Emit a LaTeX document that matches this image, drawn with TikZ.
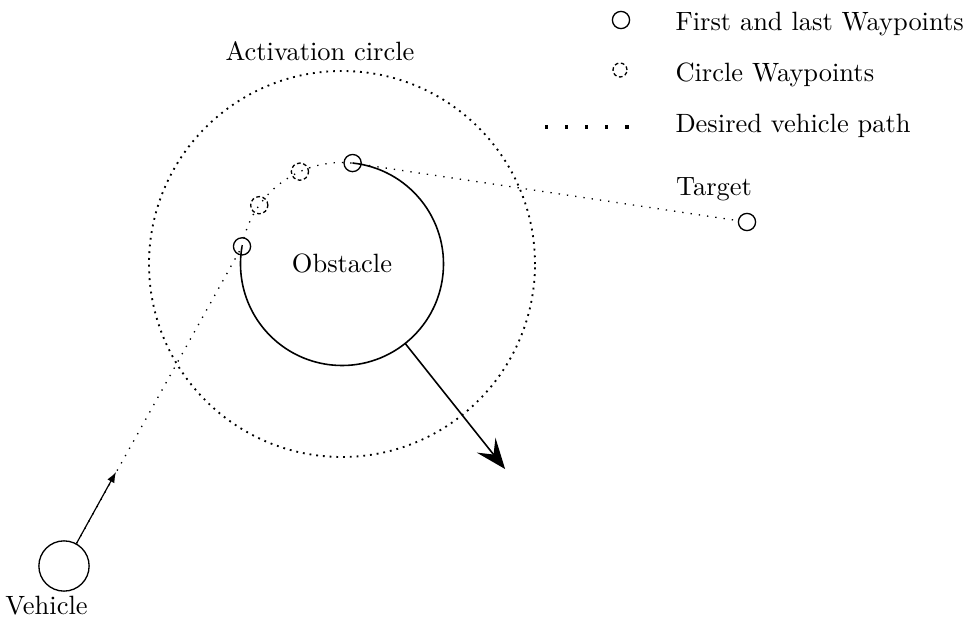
\documentclass[tikz,border=0pt]{standalone}
\usetikzlibrary{arrows.meta,calc}
\begin{document}
\begin{tikzpicture}[x=0.378pt,y=0.378pt,
  wp/.style={circle,draw,line width=0.5pt,minimum size=6.5pt,inner sep=0pt},
  cwp/.style={wp,dash pattern=on 1.4pt off 1pt},
  pathdots/.style={line width=0.5pt,dash pattern=on 0.5pt off 2.65pt},
  act/.style={line width=0.7pt,dash pattern=on 0.7pt off 1.85pt},
  obst/.style={line width=0.6pt},
  lbl/.style={inner sep=0pt,anchor=base,font=\normalsize},
  legtxt/.style={inner sep=0pt,anchor=base west,font=\normalsize}]
\useasboundingbox (0,0) rectangle (970,623);
% obstacle centre and activation circle
\coordinate (oc) at (342,359);
\draw[act] (oc) circle[radius=193];
\node[lbl] (actlbl) at (320,562) {Activation circle};
% waypoints on the obstacle circle
\path (oc) ++(170:101.5) node[wp] (w1) {};
\path (oc) ++(144.6:101.5) node[cwp] (c1) {};
\path (oc) ++(114.5:101.5) node[cwp] (c2) {};
\path (oc) ++(84:101.5) node[wp] (w2) {};
% obstacle (solid part) and dotted arc
\draw[obst] (w2.center) arc[start angle=84,end angle=-190,radius=101.5];
\draw[pathdots] (w1.center) arc[start angle=170,end angle=84,radius=101.5];
\node[lbl] (obs) at (342,350) {Obstacle};
% obstacle arrow
\path (oc) ++(-51.5:101.5) coordinate (ob1);
\path (oc) ++(-51.5:262) coordinate (ob2);
\draw[line width=0.6pt,-{Stealth[length=11.5pt,width=9pt,inset=4.5pt]}] (ob1) -- (ob2);
% target
\node[wp] (tgt) at (747,401) {};
\node[lbl] (tgtlbl) at (714,427) {Target};
\draw[pathdots] (w2.center) -- (tgt);
% vehicle
\node[circle,draw,line width=0.5pt,minimum size=19pt,inner sep=0pt] (veh) at (64,57) {};
\node[lbl] (vehlbl) at (46.5,8) {Vehicle};
\draw[pathdots] (veh) -- (w1.center);
\coordinate (va) at (116,151);
\draw[line width=0.45pt,-{Latex[length=4pt,width=3pt]}] (veh) -- (va);
% legend
\node[wp] (lg1) at (621,603) {};
\node[legtxt] (lt1) at (675,592) {First and last Waypoints};
\node[cwp,minimum size=5.3pt] (lg2) at (620,553) {};
\node[legtxt] (lt2) at (675,541) {Circle Waypoints};
\coordinate (ld1) at (545,496);
\coordinate (ld2) at (629,496);
\draw[line width=1.2pt,dash pattern=on 1.2pt off 6.4pt] (ld1) -- (ld2);
\node[legtxt] (lt3) at (675,490) {Desired vehicle path};
\end{tikzpicture}
\end{document}
